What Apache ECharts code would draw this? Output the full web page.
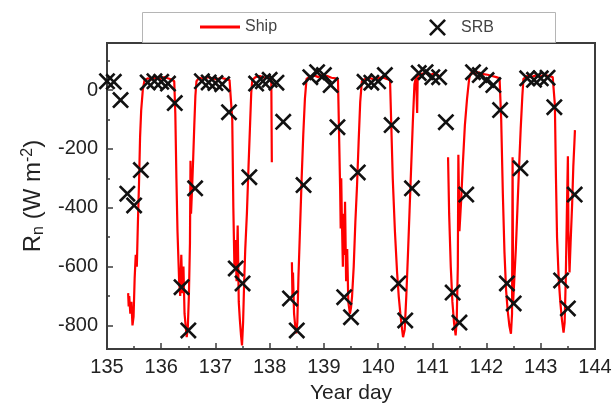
<!DOCTYPE html>
<html>
<head>
<meta charset="utf-8">
<script src="https://cdn.jsdelivr.net/npm/echarts@6/dist/echarts.min.js"></script>
<style>
  html, body { margin: 0; padding: 0; background: #fff; }
  #chart { width: 613px; height: 410px; }
</style>
</head>
<body>
<div id="chart"></div>
<script>
// Ship net radiation, year day / Rn (W m-2), null = no data
var shipDay = [
  135.39, 135.40, 135.41, 135.43, 135.45, 135.47, 135.49, 135.51, 135.53, 135.55, 135.57, 135.59, 135.61, 135.63, 135.66, 135.69,
  135.75, 135.82, 135.90, 135.98, 136.05, 136.12, 136.19, 136.24,
  136.26, 136.28, 136.30, 136.33, 136.35, 136.37, 136.39, 136.41, 136.43, 136.45, 136.47, 136.49, 136.51, 136.53, 136.54, 136.55, 136.57, 136.59, 136.61, 136.63, 136.65,
  136.70, 136.78, 136.86, 136.94, 137.02, 137.10, 137.18, 137.26, 137.29,
  137.31, 137.33, 137.35, 137.37, 137.39, 137.41, 137.43, 137.45, 137.47, 137.49, 137.51, 137.53, 137.55, 137.58, 137.61, 137.64, 137.66, 137.68,
  137.74, 137.82, 137.90, 137.98, 138.03, 138.04, 138.05,
  138.41, 138.42, 138.43, 138.45, 138.47, 138.49, 138.51, 138.53, 138.56, 138.59, 138.62, 138.65, 138.68,
  138.74, 138.82, 138.90, 138.98, 139.06, 139.14, 139.22, 139.26,
  139.28, 139.30, 139.31, 139.32, 139.33, 139.35, 139.36, 139.38, 139.39, 139.41, 139.43, 139.45, 139.48, 139.50, 139.52, 139.55, 139.58, 139.61, 139.64, 139.67, 139.70,
  139.76, 139.84, 139.92, 140.00, 140.08, 140.16, 140.22,
  140.24, 140.27, 140.31, 140.35, 140.38, 140.41, 140.44, 140.46, 140.49, 140.52, 140.55, 140.58, 140.61, 140.64, 140.67, 140.70, 140.72, 140.73,
  140.80, 140.88, 140.96, 141.04, 141.12, 141.20,
  141.29, 141.31, 141.34, 141.37, 141.40, 141.43, 141.45, 141.47, 141.48, 141.50, 141.53, 141.56, 141.60, 141.64, 141.68, 141.71,
  141.78, 141.86, 141.94, 142.02, 142.10, 142.18, 142.24,
  142.27, 142.30, 142.33, 142.36, 142.39, 142.42, 142.45, 142.47, 142.48, 142.49, 142.51, 142.54, 142.57, 142.60, 142.63, 142.66, 142.68,
  142.75, 142.83, 142.91, 142.99, 143.07, 143.15, 143.22,
  143.26, 143.28, 143.30, 143.33, 143.36, 143.39, 143.42, 143.44, 143.46, 143.48, 143.50, 143.51, 143.53, 143.55, 143.58, 143.60, 143.62, 143.63
];
var shipRn = [
  -690, -735, -700, -760, -720, -800, -770, -640, -560, -600, -450, -320, -160, -70, 0, 32,
  40, 36, 42, 38, 44, 40, 36, 30,
  -80, -300, -480, -647, -700, -560, -690, -600, -760, -800, -840, -810, -700, -520, -240, -420, -330, -230, -120, -20, 30,
  42, 38, 44, 40, 36, 42, 38, 34, 30,
  -100, -400, -600, -510, -650, -460, -720, -780, -830, -868, -790, -650, -540, -420, -260, -110, -10, 35,
  44, 48, 42, 46, 40, -245, null,
  -585, -700, -620, -760, -800, -827, -790, -640, -470, -300, -150, -30, 38,
  46, 50, 44, 52, 48, 42, 40, 35,
  -150, -340, -470, -300, -420, -600, -420, -560, -380, -650, -540, -720, -760, -740, -700, -600, -450, -330, -180, -40, 30,
  38, 42, 36, 40, 44, 38, 34,
  -100, -300, -480, -620, -700, -760, -810, -840, -815, -700, -560, -410, -260, -110, 20, 45, -78, 48,
  55, 58, 52, 56, 50, null,
  -228, -420, -600, -720, -790, -834, -780, -600, -220, -480, -380, -260, -120, -30, 40, 58,
  56, 60, 54, 52, 48, 44, 40,
  -100, -350, -550, -680, -750, -800, -828, -760, -228, -720, -650, -540, -400, -260, -130, -20, 38,
  48, 44, 50, 46, 52, 48, 44,
  -50, -300, -500, -640, -720, -780, -824, -790, -650, -430, -225, -480, -620, -520, -380, -260, -180, -136
];

// SRB 3-hourly estimates
var srbDay = [
  135.0, 135.125, 135.25, 135.375, 135.5, 135.625, 135.75, 135.875,
  136.0, 136.125, 136.25, 136.375, 136.5, 136.625, 136.75, 136.875,
  137.0, 137.125, 137.25, 137.375, 137.5, 137.625, 137.75, 137.875,
  138.0, 138.125, 138.25, 138.375, 138.5, 138.625, 138.75, 138.875,
  139.0, 139.125, 139.25, 139.375, 139.5, 139.625, 139.75, 139.875,
  140.0, 140.125, 140.25, 140.375, 140.5, 140.625, 140.75, 140.875,
  141.0, 141.125, 141.25, 141.375, 141.5, 141.625, 141.75, 141.875,
  142.0, 142.125, 142.25, 142.375, 142.5, 142.625, 142.75, 142.875,
  143.0, 143.125, 143.25, 143.375, 143.5, 143.625
];
var srbRn = [
  30, 28, -34, -352, -392, -272, 26, 30,
  28, 22, -44, -670, -817, -334, 30, 26,
  24, 20, -75, -606, -657, -296, 22, 30,
  35, 25, -108, -708, -817, -323, 44, 61,
  51, 17, -126, -704, -772, -280, 28, 25,
  30, 51, -119, -657, -783, -334, 58, 61,
  44, 44, -109, -688, -790, -355, 61, 51,
  34, 17, -68, -657, -725, -266, 40, 35,
  40, 42, -58, -647, -742, -355
];

var yMajor = [-800, -600, -400, -200, 0];
var yMinor = [-700, -500, -300, -100, 100];

var FONT = '"Liberation Sans", Arial, sans-serif';
var crossPath = 'path://M0,1.1L1.1,0L5,3.9L8.9,0L10,1.1L6.1,5L10,8.9L8.9,10L5,6.1L1.1,10L0,8.9L3.9,5Z';

var shipData = shipDay.map(function (d, i) { return [d, shipRn[i] === null ? '-' : shipRn[i]]; });
var srbData = srbDay.map(function (d, i) { return [d, srbRn[i]]; });

var chart = echarts.init(document.getElementById('chart'), null, { renderer: 'canvas' });
chart.setOption({
  animation: false,
  backgroundColor: '#fff',
  textStyle: { fontFamily: FONT },
  grid: {
    left: 107, right: 18, top: 43, bottom: 61,
    show: true, borderColor: '#3c3c3c', borderWidth: 2,
    outerBoundsMode: 'none'
  },
  graphic: [{
    type: 'rect', z: 0,
    shape: { x: 142.5, y: 12.5, width: 413, height: 30 },
    style: { fill: '#fff', stroke: '#b5b5b5', lineWidth: 1 }
  }],
  legend: [{
    data: [{ name: 'Ship', icon: 'rect' }],
    left: 200, top: 19, padding: 0,
    itemWidth: 40, itemHeight: 3, itemGap: 0,
    textStyle: { fontSize: 16, color: '#444', fontFamily: FONT }
  }, {
    data: [{ name: 'SRB', icon: crossPath }],
    left: 429, top: 19, padding: 0,
    itemWidth: 17, itemHeight: 17, itemGap: 0,
    textStyle: { fontSize: 16, color: '#444', fontFamily: FONT, padding: [0, 0, 0, 10] }
  }],
  xAxis: {
    type: 'value', min: 135, max: 144, interval: 1,
    name: 'Year day', nameLocation: 'middle', nameGap: 34,
    nameTextStyle: { fontSize: 21, color: '#222', fontFamily: FONT },
    axisLine: { show: true, onZero: false, lineStyle: { color: '#3c3c3c', width: 2 } },
    axisTick: { show: true, inside: true, length: 6, lineStyle: { color: '#3c3c3c', width: 1.5 } },
    minorTick: { show: true, splitNumber: 2, length: 3, lineStyle: { color: '#3c3c3c', width: 1.5 } },
    axisLabel: { fontSize: 20, color: '#222', margin: 8, fontFamily: FONT },
    splitLine: { show: false }
  },
  yAxis: [{
    type: 'value', min: -880, max: 160,
    name: '{a|R}{s|n}{a| (W m}{p|-2}{a|)}',
    nameLocation: 'middle', nameGap: 58, nameRotate: 90,
    nameTextStyle: {
      rich: {
        a: { fontSize: 24, color: '#222', fontFamily: FONT },
        s: { fontSize: 16, color: '#222', fontFamily: FONT, padding: [11, 0, 0, 0] },
        p: { fontSize: 16, color: '#222', fontFamily: FONT, padding: [0, 0, 11, 0] }
      }
    },
    axisLine: { show: true, onZero: false, lineStyle: { color: '#3c3c3c', width: 2 } },
    axisTick: { show: true, inside: true, length: 6, customValues: yMajor, lineStyle: { color: '#3c3c3c', width: 1.5 } },
    axisLabel: { fontSize: 20, color: '#222', margin: 9, customValues: yMajor, fontFamily: FONT },
    splitLine: { show: false }
  }, {
    type: 'value', min: -880, max: 160, position: 'left',
    axisLine: { show: false, onZero: false },
    axisTick: { show: true, inside: true, length: 3, customValues: yMinor, lineStyle: { color: '#3c3c3c', width: 1.5 } },
    axisLabel: { show: false },
    splitLine: { show: false }
  }],
  series: [{
    name: 'Ship', type: 'line', data: shipData,
    showSymbol: false, symbol: 'none', connectNulls: false,
    lineStyle: { color: '#ff0000', width: 2.2 },
    itemStyle: { color: '#ff0000' },
    z: 2
  }, {
    name: 'SRB', type: 'scatter', data: srbData,
    symbol: crossPath, symbolSize: 17, clip: false,
    itemStyle: { color: '#111', opacity: 1 },
    z: 3
  }]
});
</script>
</body>
</html>
